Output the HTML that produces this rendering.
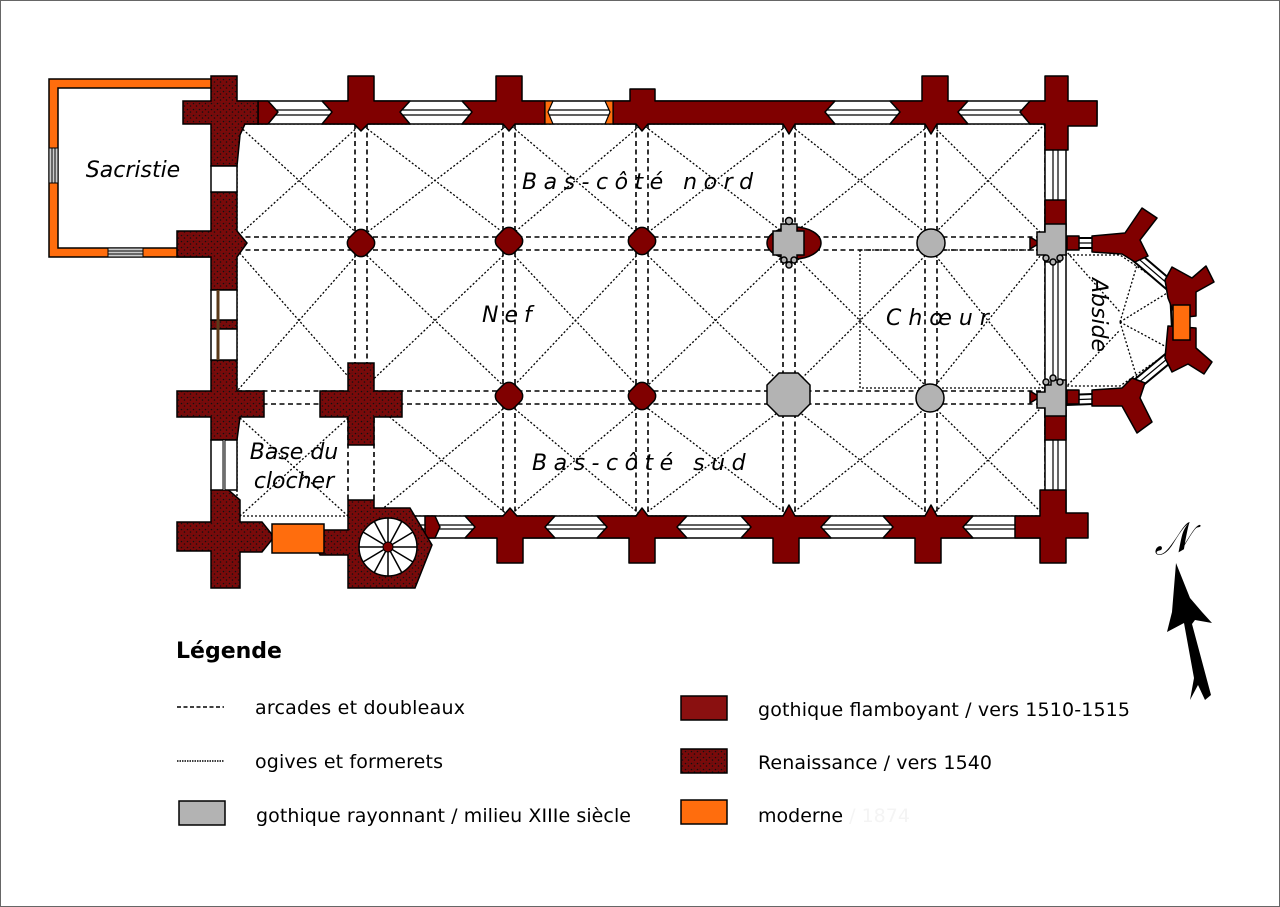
<!DOCTYPE html>
<html><head><meta charset="utf-8"><style>
html,body{margin:0;padding:0;background:#fff}
svg{display:block}
text{font-family:"DejaVu Sans","Liberation Sans",sans-serif}
</style></head><body>
<svg width="1280" height="907" viewBox="0 0 1280 907" xmlns="http://www.w3.org/2000/svg">
<defs>
<pattern id="st" width="6" height="6" patternUnits="userSpaceOnUse">
<rect width="6" height="6" fill="#7a0a0a"/>
<circle cx="1.5" cy="1.5" r="0.8" fill="#111"/><circle cx="4.5" cy="4" r="0.8" fill="#111"/><circle cx="4" cy="1" r="0.5" fill="#222"/>
</pattern>
</defs>
<rect x="0.5" y="0.5" width="1279" height="906" fill="#fff" stroke="#666"/>

<!-- Sacristie -->
<rect x="49" y="79" width="166" height="178" fill="#ff6d0d" stroke="#000" stroke-width="1.5"/>
<rect x="58" y="88" width="157" height="160" fill="#fff" stroke="#000" stroke-width="1.5"/>
<rect x="49" y="148" width="9" height="35" fill="#ccc" stroke="#000"/>
<line x1="52" y1="148" x2="52" y2="183" stroke="#000"/><line x1="55" y1="148" x2="55" y2="183" stroke="#000"/>
<rect x="108" y="248" width="35" height="9" fill="#ccc" stroke="#000"/>
<line x1="108" y1="251" x2="143" y2="251" stroke="#000"/><line x1="108" y1="254" x2="143" y2="254" stroke="#000"/>
<text x="133" y="177" font-size="22" font-style="italic" text-anchor="middle">Sacristie</text>

<!-- interior lines -->
<g fill="none" stroke="#000" stroke-width="1.3" stroke-dasharray="2,2">
<rect x="237" y="124" width="808" height="392"/>
<path d="M237 124L361 237M361 124L237 237M361 124L509 237M509 124L361 237M509 124L642 237M642 124L509 237M642 124L789 237M789 124L642 237M789 124L931 237M931 124L789 237M931 124L1045 237M1045 124L931 237"/>
<path d="M237 250L361 391M361 250L237 391M361 250L509 391M509 250L361 391M509 250L642 391M642 250L509 391M642 250L789 391M789 250L642 391M789 250L931 391M931 250L789 391M931 250L1045 391M1045 250L931 391"/>
<path d="M374 404L509 516M509 404L374 516M509 404L642 516M642 404L509 516M642 404L789 516M789 404L642 516M789 404L931 516M931 404L789 516M931 404L1045 516M1045 404L931 516"/>
<path d="M240 418L348 516M348 418L240 516"/>
<path d="M860 250V388H1045M860 250H1045"/>
<path d="M1065 250L1120 312M1065 388L1120 330M1120 322L1140 255M1120 322L1172 290M1120 322L1172 350M1120 322L1140 388"/>
<path d="M1065 255H1120L1172 290V350L1120 386H1065"/>
</g>
<g fill="none" stroke="#000" stroke-width="1.6" stroke-dasharray="5,3.5">
<path d="M237 237H1045M237 250H1045M237 391H1045M237 404H1045"/>
<path d="M355 124V391M367 124V391M503 124V516M515 124V516M636 124V516M648 124V516M783 124V516M795 124V516M925 124V516M937 124V516M1045 124V516M1057 124V516"/>
<path d="M348 418V500M374 418V500"/>
</g>

<!-- wall bands -->
<rect x="237" y="101" width="860" height="23" fill="#fff" stroke="#000" stroke-width="1.5"/>
<path d="M237 110H1045M237 115H1045" stroke="#000" stroke-width="1.2"/>
<rect x="410" y="516" width="650" height="22" fill="#fff" stroke="#000" stroke-width="1.5"/>
<path d="M410 525H1060M410 529H1060" stroke="#000" stroke-width="1.2"/>
<rect x="1045" y="124" width="21" height="392" fill="#fff" stroke="#000" stroke-width="1.5"/>
<path d="M1053 124V516M1058 124V516" stroke="#000" stroke-width="1.2"/>

<!-- apse walls -->
<path d="M1066 243H1120L1175 290L1178 350L1120 398L1066 400" fill="none" stroke="#000" stroke-width="12"/>
<path d="M1066 243H1120L1175 290L1178 350L1120 398L1066 400" fill="none" stroke="#fff" stroke-width="8"/>
<path d="M1066 243H1120L1175 290L1178 350L1120 398L1066 400" fill="none" stroke="#000" stroke-width="1.2"/>

<g fill="#800000" stroke="#000" stroke-width="1.5" stroke-linejoin="round">
<path d="M258 101H268L278 112L268 124H258Z"/>
<path d="M348 76H374V101H410L400 112L410 124H368L361 131L354 124H322L332 112L322 101H348Z"/>
<path d="M496 76H522V101H545V124H515L509 131L503 124H462L472 112L462 101H496Z"/>
<path d="M613 101H630V89H655V101H835L825 112L835 124H795L789 134L783 124H648L642 131L636 124H613Z"/>
<path d="M922 76H948V101H968L958 112L968 124H937L931 134L925 124H890L900 112L890 101H922Z"/>
<path d="M1045 76H1068V101H1097V126H1068V150H1045V124H1030L1020 112L1030 101H1045Z"/>
<path d="M497 563V538H465L475 527L465 516H503L510 508L517 516H555L545 527L555 538H523V563Z"/>
<path d="M629 563V538H597L607 527L597 516H636L642 508L648 516H687L677 527L687 538H655V563Z"/>
<path d="M773 563V538H741L751 527L741 516H783L789 505L795 516H831L821 527L831 538H799V563Z"/>
<path d="M915 563V538H883L893 527L883 516H925L931 505L937 516H973L963 527L973 538H941V563Z"/>
<path d="M1040 563V538H1015V516H1040V490H1066V513H1088V538H1066V563Z"/>
<path d="M425 516H435L440 527L435 538H425Z"/>
<path d="M1045 200H1066V230H1045Z"/>
<path d="M1045 410H1066V440H1045Z"/>
<rect x="349" y="231" width="24" height="24" rx="8" transform="rotate(45 361 243)"/>
<rect x="497" y="229" width="24" height="24" rx="8" transform="rotate(45 509 241)"/>
<rect x="630" y="229" width="24" height="24" rx="8" transform="rotate(45 642 241)"/>
<rect x="497" y="384" width="24" height="24" rx="8" transform="rotate(45 509 396)"/>
<rect x="630" y="384" width="24" height="24" rx="8" transform="rotate(45 642 396)"/>
<ellipse cx="794" cy="243" rx="27" ry="16"/>
<path d="M1040 243l-10 -6v12z"/><path d="M1067 236h12v14h-12z"/>
<path d="M1040 397l-10 -6v12z"/><path d="M1067 390h12v14h-12z"/>
<!-- apse buttresses (Y) -->
<path d="M1092 236L1125 233L1142 208L1157 218L1140 240L1148 256L1135 262L1122 254L1092 252Z"/>
<path d="M1165 280L1172 267L1192 278L1206 266L1214 282L1196 292L1196 316L1176 318L1168 298Z"/>
<path d="M1168 326L1196 328L1196 348L1212 362L1204 374L1188 364L1172 372L1165 358Z"/>
<path d="M1092 390L1122 388L1132 378L1145 383L1140 398L1152 422L1137 433L1122 406L1092 406Z"/>
</g>
<rect x="1173" y="305" width="17" height="35" fill="#ff6d0d" stroke="#000" stroke-width="1.5"/>

<path d="M545 101H553L548 112L553 124H545Z M605 101H613V124H605L610 112Z" fill="#ff6d0d" stroke="#000" stroke-width="1.2"/>

<!-- Renaissance -->
<g fill="url(#st)" stroke="#000" stroke-width="1.5">
<path d="M211 76H237V101H258V124H245L240 135L237 166H211V124H183V101H211Z"/>
<path d="M211 192H237V231L247 243L237 257V290H211V257H177V231H211Z"/>
<rect x="211" y="320" width="26" height="9"/>
<path d="M211 360H237V391H264V417H240L237 440H211V417H177V391H211Z"/>
<path d="M348 363H374V391H402V417H374V445H348V417H320V391H348Z"/>
<path d="M211 490L225 487L240 500V522H262L274 537L262 552H240V588H211V551H177V522H211Z"/>
<path d="M348 500H374V508H410L432 545L415 588H348V555H320L312 540L325 530H348Z"/>
</g>
<rect x="211" y="166" width="26" height="26" fill="#fff" stroke="#000" stroke-width="1.5"/>
<rect x="211" y="290" width="26" height="30" fill="#fff" stroke="#000" stroke-width="1.5"/>
<rect x="211" y="329" width="26" height="31" fill="#fff" stroke="#000" stroke-width="1.5"/>
<path d="M218 290V360" stroke="#5a3a1a" stroke-width="3"/>
<rect x="211" y="440" width="26" height="50" fill="#fff" stroke="#000" stroke-width="1.5"/>
<path d="M224 440V490" stroke="#000" stroke-width="3"/><path d="M224 440V490" stroke="#ddd" stroke-width="1"/>
<rect x="272" y="524" width="52" height="29" fill="#ff6d0d" stroke="#000" stroke-width="1.5"/>
<circle cx="388" cy="547" r="29" fill="#fff" stroke="#000" stroke-width="1.5"/>
<g stroke="#000" stroke-width="1.5">
<path d="M388 547L388 518M388 547L402 521M388 547L413 532M388 547L417 547M388 547L413 562M388 547L402 573M388 547L388 576M388 547L374 573M388 547L363 562M388 547L359 547M388 547L363 532M388 547L374 521"/>
</g>
<circle cx="388" cy="547" r="5" fill="#800000" stroke="#000"/>

<g fill="#b3b3b3" stroke="#000" stroke-width="1.5">
<path d="M781 224H797V231H804V255H797V262H781V255H773V231H781Z"/>
<circle cx="789" cy="221" r="3.5"/><circle cx="784" cy="260" r="3"/><circle cx="794" cy="260" r="3"/><circle cx="789" cy="265" r="3"/>
<circle cx="931" cy="243" r="14"/>
<circle cx="930" cy="398" r="14"/>
<path d="M779 373H798L810 385V404L798 416H779L767 404V385Z"/>
<path d="M1045 224H1066V255H1060V262H1045V255H1037V232H1045Z"/>
<circle cx="1046" cy="258" r="3"/><circle cx="1053" cy="262" r="3"/><circle cx="1060" cy="258" r="3"/>
<path d="M1045 385H1051V380H1066V416H1045V408H1037V392H1045Z"/>
<circle cx="1046" cy="382" r="3"/><circle cx="1053" cy="378" r="3"/><circle cx="1060" cy="382" r="3"/>
</g>

<g font-style="italic" font-size="22">
<text x="522" y="189" letter-spacing="6.5">Bas-côté nord</text>
<text x="482" y="322" letter-spacing="6">Nef</text>
<text x="886" y="325" letter-spacing="7">Chœur</text>
<text x="532" y="470" letter-spacing="6.5">Bas-côté sud</text>
<text x="294" y="459" text-anchor="middle">Base du</text>
<text x="294" y="488" text-anchor="middle">clocher</text>
<text transform="translate(1092 278) rotate(90)" font-size="22">Abside</text>
</g>

<text x="1153" y="553" font-size="40" font-style="italic" font-family="Liberation Serif,serif" transform="rotate(-8 1170 540)">𝒩</text>
<path d="M1176 563L1190 598L1202 612L1212 623L1195 620L1192 624L1211 695L1205 700L1198 685L1190 700L1194 678L1184 623L1167 632L1172 612Z" fill="#000"/>

<text x="176" y="658" font-size="22" font-weight="bold">Légende</text>
<path d="M177 707H224" stroke="#000" stroke-width="1.5" stroke-dasharray="4,2.5"/>
<path d="M177 761H224" stroke="#000" stroke-width="1.5" stroke-dasharray="1.5,1"/>
<rect x="179" y="801" width="46" height="24" fill="#b3b3b3" stroke="#000" stroke-width="1.5"/>
<rect x="681" y="696" width="46" height="24" fill="#8a1010" stroke="#000" stroke-width="1.5"/>
<rect x="681" y="749" width="46" height="24" fill="url(#st)" stroke="#000" stroke-width="1.5"/>
<rect x="681" y="800" width="46" height="24" fill="#ff6d0d" stroke="#000" stroke-width="1.5"/>
<g font-size="19" font-family="DejaVu Sans Condensed,DejaVu Sans,sans-serif">
<text x="255" y="714" textLength="210">arcades et doubleaux</text>
<text x="255" y="768" textLength="188">ogives et formerets</text>
<text x="256" y="822" textLength="375">gothique rayonnant / milieu XIIIe siècle</text>
<text x="758" y="716" textLength="372">gothique flamboyant / vers 1510-1515</text>
<text x="758" y="769" textLength="234">Renaissance / vers 1540</text>
<text x="758" y="822">moderne <tspan fill="#f4f4f4">/ 1874</tspan></text>
</g>
</svg>
</body></html>
